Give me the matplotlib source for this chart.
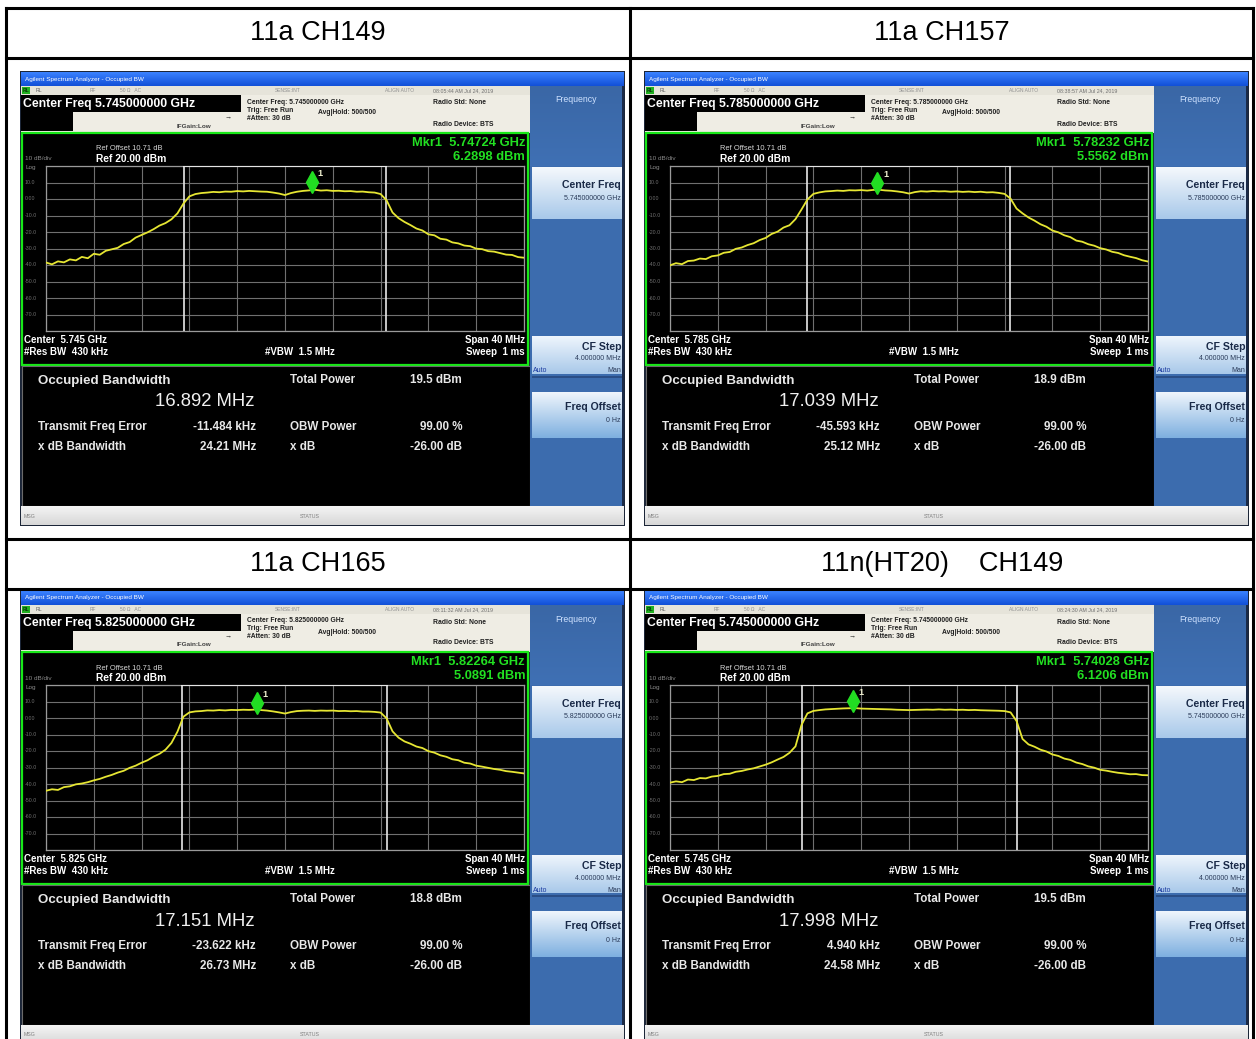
import matplotlib
matplotlib.use("Agg")
import matplotlib.pyplot as plt
from matplotlib.patches import Rectangle
from matplotlib.transforms import offset_copy
import numpy as np

plt.rcParams['font.family'] = ['Liberation Sans', 'DejaVu Sans']

W, H = 1256, 1039

# ---------------- data ----------------
titles = ["11a CH149", "11a CH157", "11a CH165", "11n(HT20)    CH149"]
center_ghz = ["5.745000000", "5.785000000", "5.825000000", "5.745000000"]
center_short = ["5.745", "5.785", "5.825", "5.745"]
timestamps = ["08:05:44 AM Jul 24, 2019", "08:38:57 AM Jul 24, 2019",
              "08:11:32 AM Jul 24, 2019", "08:24:30 AM Jul 24, 2019"]
mkr_freq_ghz = ["5.74724", "5.78232", "5.82264", "5.74028"]
mkr_offset_mhz = [2.24, -2.68, -2.36, -4.72]
mkr_dbm = [6.2898, 5.5562, 5.0891, 6.1206]
obw_mhz = [16.892, 17.039, 17.151, 17.998]
total_power_dbm = [19.5, 18.9, 18.8, 19.5]
freq_error_khz = [-11.484, -45.593, -23.622, 4.940]
xdb_bw_mhz = [24.21, 25.12, 26.73, 24.58]
ytick_labels = ["10.0", "0.00", "-10.0", "-20.0", "-30.0", "-40.0", "-50.0", "-60.0", "-70.0"]

freq_offset_mhz = np.linspace(-20, 20, 81)
trace_ch149 = [-38.5, -39.6, -37.8, -38.4, -36.6, -37.2, -35.1, -35.9, -33.2, -33.8,
               -31.4, -30.5, -29.6, -27.3, -26.1, -23.4, -21.8, -20.2, -18.3, -16.1,
               -14.6, -12.3, -8.7, -2.8, 1.6, 3.0, 3.6, 3.9, 4.3, 4.1,
               4.5, 4.4, 4.8, 4.6, 4.9, 4.7, 4.5, 4.4, 3.9, 3.3,
               2.4, 3.6, 4.4, 4.9, 5.2, 5.6, 5.1, 5.3, 4.9, 5.0,
               4.7, 4.8, 4.4, 4.5, 4.1, 3.9, 3.0, -0.8, -8.2, -11.6,
               -13.9, -15.8, -17.9, -19.1, -21.4, -22.0, -24.1, -24.6, -26.3, -26.9,
               -28.2, -28.6, -30.1, -30.4, -31.6, -31.9, -32.8, -33.7, -33.9, -35.2,
               -35.6]
trace_ch157 = [-40.2, -38.9, -39.5, -37.6, -37.3, -36.1, -36.4, -34.7, -34.2, -32.6,
               -32.1, -30.2, -29.4, -27.9, -26.8, -24.9, -23.6, -21.2, -19.8, -17.3,
               -15.9, -12.2, -6.4, -0.3, 3.1, 4.0, 4.6, 4.8, 5.1, 4.9,
               5.3, 5.2, 5.4, 5.1, 5.5, 5.6, 5.2, 5.0, 4.6, 4.1,
               3.3, 4.2, 4.7, 4.5, 4.8, 4.6, 4.7, 4.4, 4.6, 4.3,
               4.5, 4.2, 4.4, 4.0, 4.1, 3.7, 3.1, 0.2, -5.8, -8.7,
               -11.2, -13.1, -15.3, -16.8, -19.1, -20.2, -22.0, -23.1, -25.2, -25.9,
               -27.4, -28.3, -29.8, -30.6, -32.0, -32.7, -34.1, -35.0, -35.8, -37.1,
               -37.9]
trace_ch165 = [-44.1, -43.2, -43.6, -41.9, -41.4, -40.2, -39.7, -38.9, -37.8, -36.9,
               -35.6, -34.5, -33.1, -32.0, -30.2, -28.9, -27.1, -25.6, -23.4, -21.7,
               -19.2, -15.1, -8.3, 0.8, 3.4, 4.0, 4.2, 4.6, 4.5, 4.8,
               4.6, 4.9, 4.8, 5.0, 4.9, 5.1, 4.8, 4.5, 4.0, 3.4,
               2.7, 3.6, 4.2, 4.4, 4.5, 4.3, 4.5, 4.4, 4.5, 4.2,
               4.3, 4.1, 4.2, 3.9, 3.9, 3.7, 3.3, -0.2, -8.1, -11.9,
               -14.2, -15.6, -17.3, -18.2, -20.1, -21.0, -22.6, -23.5, -25.0, -25.6,
               -27.1, -27.6, -28.9, -29.5, -30.2, -30.9, -31.4, -32.2, -32.6, -33.1,
               -33.6]
trace_ht20 = [-39.2, -38.4, -38.9, -37.3, -37.6, -36.4, -36.6, -35.5, -35.1, -34.0,
              -33.8, -32.6, -32.1, -31.2, -30.5, -29.4, -28.3, -26.9, -25.2, -23.6,
              -21.1, -17.2, -4.3, 2.8, 4.3, 4.8, 5.2, 5.4, 5.6, 5.8,
              5.9, 6.0, 5.7, 5.6, 5.5, 5.4, 5.3, 5.2, 5.0, 4.9,
              4.8, 4.9, 5.0, 5.1, 5.0, 5.2, 5.0, 5.1, 4.9, 5.0,
              4.8, 4.9, 4.7, 4.6, 4.5, 4.4, 4.2, 3.4, -1.8, -12.7,
              -16.0, -17.4, -19.2, -20.3, -22.1, -23.0, -24.6, -25.4, -27.0, -27.9,
              -29.3, -30.1, -31.4, -31.9, -32.6, -33.2, -33.6, -34.1, -34.0, -34.6,
              -34.7]
traces = [trace_ch149, trace_ch157, trace_ch165, trace_ht20]

# panel origins (top-left of each screenshot, pixels)
origins = [(20, 71), (644, 71), (20, 590), (644, 590)]
header_centers = [(318, 33), (942, 33), (318, 564), (942, 564)]

# ---------------- drawing ----------------
fig = plt.figure(figsize=(W / 100, H / 100), dpi=100)
fig.patch.set_facecolor('white')
bg = fig.add_axes([0, 0, 1, 1])
bg.set_axis_off()


def rect(x, y, w, h, fc, ec='none', lw=0, z=1):
    bg.add_patch(Rectangle((x, y), w, h, facecolor=fc, edgecolor=ec, linewidth=lw, zorder=z))


def grad(x, y, w, h, ctop, cbot, z=1):
    c1 = np.array(matplotlib.colors.to_rgb(ctop))
    c2 = np.array(matplotlib.colors.to_rgb(cbot))
    t = np.linspace(0, 1, 32)[:, None]
    img = (c1[None, :] * (1 - t) + c2[None, :] * t)[:, None, :]
    bg.imshow(img, extent=[x, x + w, y + h, y], origin='upper', aspect='auto',
              interpolation='bilinear', zorder=z)


def txt(x, y, s, size, color='white', weight='normal', ha='left', z=5):
    bg.text(x, y, s, fontsize=size, color=color, fontweight=weight, ha=ha,
            va='center', zorder=z)


for i, (ox, oy) in enumerate(origins):
    def R(x, y, w, h, fc, **k):
        rect(ox + x, oy + y, w, h, fc, **k)

    def G(x, y, w, h, c1, c2, **k):
        grad(ox + x, oy + y, w, h, c1, c2, **k)

    def T(x, y, s, size, **k):
        txt(ox + x, oy + y, s, size, **k)

    # outer frame
    R(0, 0, 605, 455, '#1c2638')
    # title bar
    G(1, 1, 603, 14, '#3a82ff', '#1250d8', z=2)
    T(5, 8, 'Agilent Spectrum Analyzer - Occupied BW', 4.6, color='white', z=5)
    # status row
    R(1, 15, 509, 9, '#e6e4da', z=2)
    R(2, 16, 8, 7, '#20b020', z=3)
    T(3, 19.5, 'RL', 3.5, color='#0a3a0a', weight='bold')
    T(16, 19.5, 'RL', 3.8, color='#606060')
    T(70, 19.5, 'RF', 3.5, color='#909090')
    T(100, 19.5, '50 Ω   AC', 3.5, color='#909090')
    T(255, 19.5, 'SENSE:INT', 3.5, color='#909090')
    T(365, 19.5, 'ALIGN AUTO', 3.5, color='#909090')
    T(413, 19.5, timestamps[i], 3.8, color='#707070')
    # header area
    R(1, 24, 509, 38, '#efede4', z=2)
    R(1, 24, 220, 17, 'black', z=3)
    T(3, 33, 'Center Freq ' + center_ghz[i] + ' GHz', 8.8, color='white', weight='bold')
    R(1, 41, 52, 19, 'black', z=3)
    T(157, 55, 'IFGain:Low', 4.6, color='#404040', weight='bold')
    T(205, 46, '→', 5, color='#202020')
    T(227, 31, 'Center Freq: ' + center_ghz[i] + ' GHz', 4.9, color='#202020', weight='bold')
    T(227, 39, 'Trig: Free Run', 4.9, color='#202020', weight='bold')
    T(227, 47, '#Atten: 30 dB', 4.9, color='#202020', weight='bold')
    T(298, 42, 'Avg|Hold: 500/500', 4.9, color='#202020', weight='bold')
    T(413, 32, 'Radio Std: None', 4.9, color='#202020', weight='bold')
    T(413, 53, 'Radio Device: BTS', 4.9, color='#202020', weight='bold')

    # graph panel
    R(2, 62, 506, 232, 'black', ec='#18e818', lw=1.6, z=2)
    T(76, 78, 'Ref Offset 10.71 dB', 5.4, color='#d8d8d8')
    T(76, 88, 'Ref 20.00 dBm', 7.4, color='white', weight='bold')
    T(5, 88, '10 dB/div', 4.6, color='#8a8a8a')
    T(5, 97, 'Log', 4.6, color='#8a8a8a')
    for k, lab in enumerate(ytick_labels):
        T(5, 95 + 16.5 * (k + 1), lab, 3.8, color='#707070')
    T(505, 72, 'Mkr1  ' + mkr_freq_ghz[i] + ' GHz', 9.3, color='#22e022', weight='bold', ha='right')
    T(505, 86, '%.4f dBm' % mkr_dbm[i], 9.3, color='#22e022', weight='bold', ha='right')
    T(4, 269, 'Center  ' + center_short[i] + ' GHz', 7.0, color='white', weight='bold')
    T(4, 281, '#Res BW  430 kHz', 7.0, color='white', weight='bold')
    T(245, 281, '#VBW  1.5 MHz', 7.0, color='white', weight='bold')
    T(505, 269, 'Span 40 MHz', 7.0, color='white', weight='bold', ha='right')
    T(505, 281, 'Sweep  1 ms', 7.0, color='white', weight='bold', ha='right')

    # result panel
    R(2, 295, 508, 140, 'black', ec='#6a6a6a', lw=0.8, z=2)
    T(18, 310, 'Occupied Bandwidth', 9.6, color='#e8e8e8', weight='bold')
    T(185, 331, '%.3f MHz' % obw_mhz[i], 13.3, color='#f0f0f0', ha='center')
    T(18, 356, 'Transmit Freq Error', 8.4, color='#e8e8e8', weight='bold')
    T(236, 356, '%.3f kHz' % freq_error_khz[i], 8.4, color='#e8e8e8', weight='bold', ha='right')
    T(18, 376, 'x dB Bandwidth', 8.4, color='#e8e8e8', weight='bold')
    T(236, 376, '%.2f MHz' % xdb_bw_mhz[i], 8.4, color='#e8e8e8', weight='bold', ha='right')
    T(270, 309, 'Total Power', 8.4, color='#e8e8e8', weight='bold')
    T(442, 309, '%.1f dBm' % total_power_dbm[i], 8.4, color='#e8e8e8', weight='bold', ha='right')
    T(270, 356, 'OBW Power', 8.4, color='#e8e8e8', weight='bold')
    T(442, 356, '99.00 %', 8.4, color='#e8e8e8', weight='bold', ha='right')
    T(270, 376, 'x dB', 8.4, color='#e8e8e8', weight='bold')
    T(442, 376, '-26.00 dB', 8.4, color='#e8e8e8', weight='bold', ha='right')

    # status bar
    G(1, 435, 603, 19, '#f4f4f4', '#d8d8d8', z=2)
    T(4, 445, 'MSG', 3.8, color='#808080')
    T(280, 445, 'STATUS', 3.8, color='#808080')

    # softkey panel
    R(510, 15, 93, 420, '#3c6cae', z=2)
    G(510, 15, 93, 80, '#3a67a6', '#3f70b4', z=2)
    T(556, 29, 'Frequency', 6.3, color='#cfe2ff', ha='center')
    G(512, 96, 90, 52, '#f4f8fc', '#a9c9ea', z=3)
    T(601, 114, 'Center Freq', 7.6, color='#1a2a48', weight='bold', ha='right')
    T(601, 127, center_ghz[i] + ' GHz', 5.0, color='#2a3a58', ha='right')
    G(512, 265, 90, 38, '#eef5fc', '#a9c9ea', z=3)
    T(601, 276, 'CF Step', 7.6, color='#1a2a48', weight='bold', ha='right')
    T(601, 288, '4.000000 MHz', 5.0, color='#2a3a58', ha='right')
    T(513, 300, 'Auto', 5.0, color='#1a3aa0')
    T(601, 300, 'Man', 5.0, color='#2a3a58', ha='right')
    R(512, 305, 90, 2, '#2a4e86', z=3)
    G(512, 321, 90, 46, '#eef5fc', '#7fb0e0', z=3)
    T(601, 336, 'Freq Offset', 7.6, color='#1a2a48', weight='bold', ha='right')
    T(601, 350, '0 Hz', 5.0, color='#2a3a58', ha='right')
    R(602, 15, 2, 420, '#1a2a48', z=3)

    # spectrum trace axes (grid area)
    gx, gy, gw, gh = ox + 26, oy + 95, 478, 165
    ax = fig.add_axes([gx / W, 1 - (gy + gh) / H, gw / W, gh / H])
    ax.set_facecolor('black')
    ax.set_xlim(-20, 20)
    ax.set_ylim(-80, 20)
    ax.set_xticks(np.linspace(-20, 20, 11))
    ax.set_yticks(np.linspace(-80, 20, 11))
    ax.tick_params(length=0, labelleft=False, labelbottom=False)
    ax.grid(True, color='#707070', lw=0.8)
    for s in ax.spines.values():
        s.set_color('#9a9a9a')
        s.set_linewidth(0.9)
    half = obw_mhz[i] / 2
    c0 = freq_error_khz[i] / 1000
    for xv in (c0 - half, c0 + half):
        ax.axvline(xv, color='#e8e8e8', lw=1.2, zorder=3)
    ax.plot([c0 - half, c0 + half], [19.7, 19.7], color='#e8e8e8', lw=1.4, zorder=3)
    ax.plot(freq_offset_mhz, traces[i], color='#e6e633', lw=1.3, zorder=4)
    tr = offset_copy(ax.transData, fig=fig, x=0, y=7, units='dots')
    ax.plot([mkr_offset_mhz[i]], [mkr_dbm[i]], marker='d', ms=11, color='#22dd22',
            mec='#22dd22', transform=tr, zorder=5, clip_on=False)
    tr2 = offset_copy(ax.transData, fig=fig, x=6, y=13, units='dots')
    ax.text(mkr_offset_mhz[i], mkr_dbm[i], '1', transform=tr2, color='#f0f0d0',
            fontsize=6.5, fontweight='bold', zorder=6)

# table headers
for (cx, cy), t in zip(header_centers, titles):
    txt(cx, cy, t, 19.5, color='black', ha='center')

# table lines
lw_t = 2.2
bg.plot([6, 1253], [8, 8], color='black', lw=lw_t, zorder=10)
for yy in (58, 539, 589):
    bg.plot([6, 1253], [yy, yy], color='black', lw=lw_t, zorder=10)
for xx in (6, 630, 1253):
    bg.plot([xx, xx], [8, 1039], color='black', lw=lw_t, zorder=10)

bg.set_xlim(0, W)
bg.set_ylim(H, 0)
fig.savefig('out.png', dpi=100)
